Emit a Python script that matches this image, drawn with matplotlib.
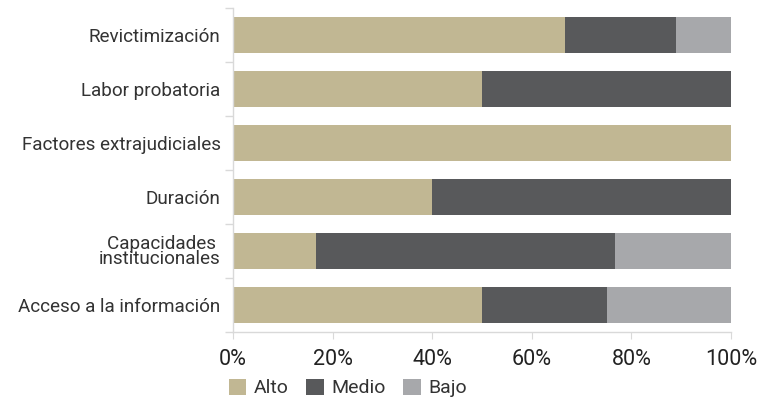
import matplotlib
matplotlib.use("Agg")
import matplotlib.pyplot as plt
from matplotlib.patches import Patch
from matplotlib.ticker import FixedLocator, PercentFormatter

plt.rcParams['font.family'] = ['Roboto', 'DejaVu Sans']

categories = ["Revictimización", "Labor probatoria", "Factores extrajudiciales",
              "Duración", "Capacidades \ninstitucionales", "Acceso a la información"]
alto = [66.7, 50.0, 100.0, 40.0, 16.7, 50.0]
medio = [22.2, 50.0, 0.0, 60.0, 60.0, 25.0]
bajo = [11.1, 0.0, 0.0, 0.0, 23.3, 25.0]
series_names = ["Alto", "Medio", "Bajo"]
colors = ["#C1B793", "#58595B", "#A7A8AB"]

fig = plt.figure(figsize=(7.75, 4.0), dpi=100)
ax = fig.add_axes([233 / 775, 1 - 332 / 400, 498 / 775, 324 / 400])

y = list(range(len(categories)))
left = [0.0] * len(categories)
for vals, name, c in zip([alto, medio, bajo], series_names, colors):
    ax.barh(y, vals, left=left, height=0.67, color=c, label=name, linewidth=0)
    left = [l + v for l, v in zip(left, vals)]

ax.set_ylim(len(categories) - 0.5, -0.5)
ax.set_xlim(0, 100)
ax.set_yticks(y)
ax.set_yticklabels(categories, fontsize=13.6, color="#333333", linespacing=0.8)
ax.yaxis.set_minor_locator(FixedLocator([i - 0.5 for i in range(len(categories) + 1)]))
ax.tick_params(axis="y", which="major", length=0, pad=9)
ax.tick_params(axis="y", which="minor", length=6, color="#D9D9D9", width=1)
ax.set_xticks([0, 20, 40, 60, 80, 100])
ax.xaxis.set_major_formatter(PercentFormatter(decimals=0))
ax.tick_params(axis="x", length=5, color="#D9D9D9", labelsize=15.5, labelcolor="#222222", pad=7)

for side in ["top", "right"]:
    ax.spines[side].set_visible(False)
for side in ["left", "bottom"]:
    ax.spines[side].set_color("#D9D9D9")
    ax.spines[side].set_linewidth(1)

handles = [Patch(facecolor=c, edgecolor="none") for c in colors]
fig.legend(handles, series_names, loc="center left", bbox_to_anchor=(211 / 775, 1 - 388 / 400),
           ncol=3, frameon=False, fontsize=14, handlelength=0.9, handleheight=0.9,
           handletextpad=0.4, columnspacing=0.9, labelcolor="#333333")

fig.savefig("out.png", dpi=100)
